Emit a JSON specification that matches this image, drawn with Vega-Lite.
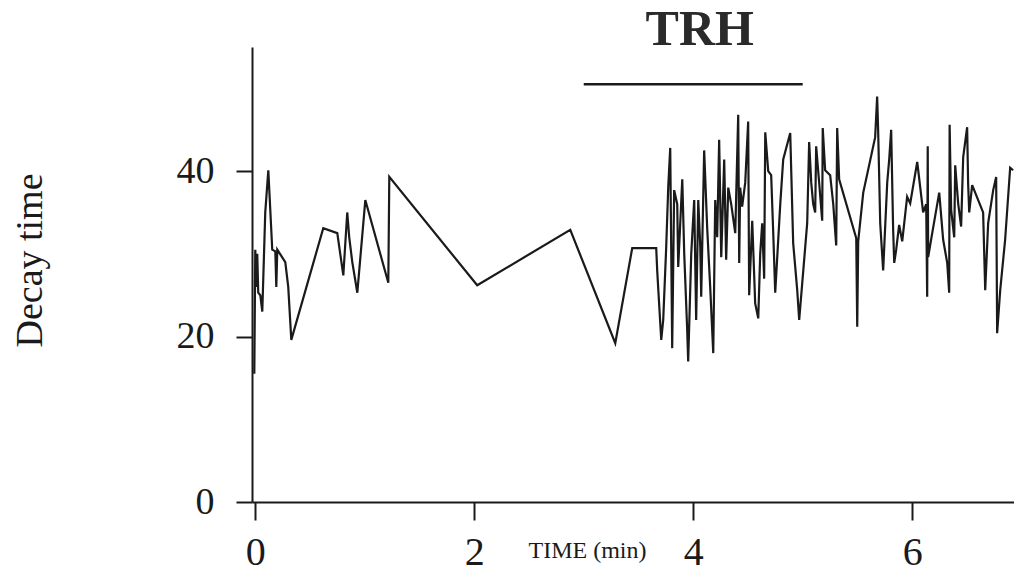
{
  "$schema": "https://vega.github.io/schema/vega-lite/v6.json",
  "width": 762,
  "height": 455,
  "autosize": {"type": "none"},
  "padding": {"left": 252, "top": 47, "right": 0, "bottom": 76},
  "background": "white",
  "config": {
    "view": {"stroke": null},
    "font": "Liberation Serif",
    "axis": {
      "grid": false,
      "domainColor": "#1a1a1a",
      "domainWidth": 2,
      "tickColor": "#1a1a1a",
      "tickWidth": 2,
      "labelColor": "#1a1a1a",
      "titleColor": "#1a1a1a",
      "labelFont": "Liberation Serif",
      "titleFont": "Liberation Serif",
      "titleFontWeight": "normal"
    }
  },
  "datasets": {
    "series": [
      {"i": 1, "t": -0.009, "v": 15.5},
      {"i": 2, "t": 0.0, "v": 30.5},
      {"i": 3, "t": 0.009, "v": 26},
      {"i": 4, "t": 0.018, "v": 30},
      {"i": 5, "t": 0.027, "v": 25.3},
      {"i": 6, "t": 0.046, "v": 25},
      {"i": 7, "t": 0.064, "v": 23},
      {"i": 8, "t": 0.091, "v": 35},
      {"i": 9, "t": 0.119, "v": 40.1},
      {"i": 10, "t": 0.155, "v": 30.5},
      {"i": 11, "t": 0.183, "v": 30.3},
      {"i": 12, "t": 0.192, "v": 26},
      {"i": 13, "t": 0.201, "v": 30.5},
      {"i": 14, "t": 0.274, "v": 29},
      {"i": 15, "t": 0.301, "v": 26},
      {"i": 16, "t": 0.329, "v": 19.6},
      {"i": 17, "t": 0.621, "v": 33.1},
      {"i": 18, "t": 0.749, "v": 32.5},
      {"i": 19, "t": 0.776, "v": 30},
      {"i": 20, "t": 0.804, "v": 27.4},
      {"i": 21, "t": 0.84, "v": 35},
      {"i": 22, "t": 0.858, "v": 32},
      {"i": 23, "t": 0.886, "v": 29},
      {"i": 24, "t": 0.932, "v": 25.3},
      {"i": 25, "t": 1.005, "v": 36.5},
      {"i": 26, "t": 1.215, "v": 26.5},
      {"i": 27, "t": 1.224, "v": 39.3},
      {"i": 28, "t": 2.027, "v": 26.2},
      {"i": 29, "t": 2.877, "v": 32.9},
      {"i": 30, "t": 3.288, "v": 19.2},
      {"i": 31, "t": 3.443, "v": 30.7},
      {"i": 32, "t": 3.662, "v": 30.7},
      {"i": 33, "t": 3.671, "v": 28},
      {"i": 34, "t": 3.68, "v": 25.9},
      {"i": 35, "t": 3.699, "v": 21.6},
      {"i": 36, "t": 3.708, "v": 19.6},
      {"i": 37, "t": 3.726, "v": 22},
      {"i": 38, "t": 3.753, "v": 30.7},
      {"i": 39, "t": 3.772, "v": 38.1},
      {"i": 40, "t": 3.79, "v": 42.8},
      {"i": 41, "t": 3.808, "v": 18.6},
      {"i": 42, "t": 3.826, "v": 37.7},
      {"i": 43, "t": 3.854, "v": 36},
      {"i": 44, "t": 3.863, "v": 28.4},
      {"i": 45, "t": 3.9, "v": 39},
      {"i": 46, "t": 3.918, "v": 30},
      {"i": 47, "t": 3.945, "v": 20.8},
      {"i": 48, "t": 3.954, "v": 17},
      {"i": 49, "t": 3.982, "v": 30},
      {"i": 50, "t": 4.009, "v": 36.5},
      {"i": 51, "t": 4.027, "v": 22},
      {"i": 52, "t": 4.046, "v": 36.5},
      {"i": 53, "t": 4.064, "v": 31},
      {"i": 54, "t": 4.073, "v": 24.8},
      {"i": 55, "t": 4.1, "v": 42.5},
      {"i": 56, "t": 4.128, "v": 33},
      {"i": 57, "t": 4.155, "v": 26},
      {"i": 58, "t": 4.183, "v": 18},
      {"i": 59, "t": 4.201, "v": 36.5},
      {"i": 60, "t": 4.219, "v": 32},
      {"i": 61, "t": 4.237, "v": 43.8},
      {"i": 62, "t": 4.256, "v": 29.6},
      {"i": 63, "t": 4.283, "v": 41.4},
      {"i": 64, "t": 4.301, "v": 29.3},
      {"i": 65, "t": 4.32, "v": 38},
      {"i": 66, "t": 4.347, "v": 36},
      {"i": 67, "t": 4.384, "v": 32.5},
      {"i": 68, "t": 4.411, "v": 46.8},
      {"i": 69, "t": 4.42, "v": 28.9},
      {"i": 70, "t": 4.429, "v": 38},
      {"i": 71, "t": 4.447, "v": 35.7},
      {"i": 72, "t": 4.475, "v": 38.6},
      {"i": 73, "t": 4.502, "v": 46},
      {"i": 74, "t": 4.511, "v": 25},
      {"i": 75, "t": 4.539, "v": 34},
      {"i": 76, "t": 4.566, "v": 24},
      {"i": 77, "t": 4.594, "v": 22.2},
      {"i": 78, "t": 4.612, "v": 30},
      {"i": 79, "t": 4.63, "v": 33.7},
      {"i": 80, "t": 4.648, "v": 27},
      {"i": 81, "t": 4.658, "v": 44.7},
      {"i": 82, "t": 4.685, "v": 40},
      {"i": 83, "t": 4.712, "v": 39.5},
      {"i": 84, "t": 4.731, "v": 32.5},
      {"i": 85, "t": 4.749, "v": 25.3},
      {"i": 86, "t": 4.795, "v": 36},
      {"i": 87, "t": 4.822, "v": 41.4},
      {"i": 88, "t": 4.886, "v": 44.6},
      {"i": 89, "t": 4.913, "v": 31.3},
      {"i": 90, "t": 4.95, "v": 25.6},
      {"i": 91, "t": 4.968, "v": 22},
      {"i": 92, "t": 5.041, "v": 33.7},
      {"i": 93, "t": 5.059, "v": 43.5},
      {"i": 94, "t": 5.078, "v": 38.6},
      {"i": 95, "t": 5.096, "v": 36},
      {"i": 96, "t": 5.114, "v": 35},
      {"i": 97, "t": 5.123, "v": 43},
      {"i": 98, "t": 5.151, "v": 38.5},
      {"i": 99, "t": 5.178, "v": 34},
      {"i": 100, "t": 5.183, "v": 45.2},
      {"i": 101, "t": 5.205, "v": 40.1},
      {"i": 102, "t": 5.251, "v": 39.5},
      {"i": 103, "t": 5.279, "v": 36},
      {"i": 104, "t": 5.306, "v": 31},
      {"i": 105, "t": 5.315, "v": 45.2},
      {"i": 106, "t": 5.333, "v": 39},
      {"i": 107, "t": 5.489, "v": 31.9},
      {"i": 108, "t": 5.498, "v": 21.2},
      {"i": 109, "t": 5.507, "v": 31.5},
      {"i": 110, "t": 5.553, "v": 37.4},
      {"i": 111, "t": 5.662, "v": 44.1},
      {"i": 112, "t": 5.68, "v": 49},
      {"i": 113, "t": 5.689, "v": 45},
      {"i": 114, "t": 5.708, "v": 33.7},
      {"i": 115, "t": 5.735, "v": 28},
      {"i": 116, "t": 5.772, "v": 38.6},
      {"i": 117, "t": 5.79, "v": 41.4},
      {"i": 118, "t": 5.808, "v": 45},
      {"i": 119, "t": 5.826, "v": 33},
      {"i": 120, "t": 5.836, "v": 28.9},
      {"i": 121, "t": 5.854, "v": 30.5},
      {"i": 122, "t": 5.881, "v": 33.5},
      {"i": 123, "t": 5.909, "v": 31.5},
      {"i": 124, "t": 5.954, "v": 36.9},
      {"i": 125, "t": 5.982, "v": 36.1},
      {"i": 126, "t": 6.046, "v": 41.1},
      {"i": 127, "t": 6.073, "v": 38.1},
      {"i": 128, "t": 6.1, "v": 35},
      {"i": 129, "t": 6.128, "v": 36},
      {"i": 130, "t": 6.137, "v": 24.8},
      {"i": 131, "t": 6.142, "v": 43},
      {"i": 132, "t": 6.146, "v": 29.6},
      {"i": 133, "t": 6.183, "v": 32.5},
      {"i": 134, "t": 6.247, "v": 37.4},
      {"i": 135, "t": 6.283, "v": 31.7},
      {"i": 136, "t": 6.32, "v": 28.9},
      {"i": 137, "t": 6.338, "v": 25.3},
      {"i": 138, "t": 6.342, "v": 45.6},
      {"i": 139, "t": 6.356, "v": 35.3},
      {"i": 140, "t": 6.384, "v": 32},
      {"i": 141, "t": 6.393, "v": 40.7},
      {"i": 142, "t": 6.42, "v": 36.1},
      {"i": 143, "t": 6.447, "v": 33.3},
      {"i": 144, "t": 6.466, "v": 41.7},
      {"i": 145, "t": 6.502, "v": 45.3},
      {"i": 146, "t": 6.511, "v": 38.5},
      {"i": 147, "t": 6.521, "v": 35},
      {"i": 148, "t": 6.548, "v": 38.3},
      {"i": 149, "t": 6.648, "v": 35},
      {"i": 150, "t": 6.667, "v": 25.6},
      {"i": 151, "t": 6.694, "v": 33.7},
      {"i": 152, "t": 6.74, "v": 37.7},
      {"i": 153, "t": 6.767, "v": 39.3},
      {"i": 154, "t": 6.776, "v": 20.4},
      {"i": 155, "t": 6.804, "v": 25.6},
      {"i": 156, "t": 6.849, "v": 31.7},
      {"i": 157, "t": 6.895, "v": 40.4},
      {"i": 158, "t": 6.922, "v": 40.1}
    ],
    "bar": [{"t0": 3.0, "t1": 5.0, "v": 50.5}],
    "label": [{"text": "TRH", "t": 4.06, "v": 57.1}]
  },
  "layer": [
    {
      "data": {"name": "series"},
      "mark": {"type": "line", "color": "#1a1a1a", "strokeWidth": 2.2, "clip": true},
      "encoding": {
        "x": {
          "field": "t", "type": "quantitative",
          "scale": {"domain": [-0.03, 6.93], "nice": false, "zero": false},
          "axis": {
            "values": [0, 2, 4, 6], "format": "d", "tickSize": 18, "labelFontSize": 40, "labelPadding": 12,
            "title": "TIME (min)", "titleFontSize": 24, "titleX": 335, "titleY": 48,
            "titleAlign": "center", "titleBaseline": "middle"
          }
        },
        "y": {
          "field": "v", "type": "quantitative",
          "scale": {"domain": [0, 55], "nice": false},
          "axis": {
            "values": [0, 20, 40], "format": "d", "tickSize": 16, "labelFontSize": 38, "labelPadding": 22,
            "title": "Decay time", "titleFontSize": 38, "titleAngle": -90,
            "titleX": -222, "titleY": 213, "titleAlign": "center", "titleBaseline": "middle"
          }
        },
        "order": {"field": "i", "type": "quantitative"}
      }
    },
    {
      "data": {"name": "bar"},
      "mark": {"type": "rule", "color": "#1a1a1a", "strokeWidth": 2.5},
      "encoding": {
        "x": {"field": "t0", "type": "quantitative", "title": "TIME (min)"},
        "x2": {"field": "t1"},
        "y": {"field": "v", "type": "quantitative", "title": "Decay time"}
      }
    },
    {
      "data": {"name": "label"},
      "mark": {"type": "text", "font": "Liberation Serif", "fontWeight": "bold", "fontSize": 50, "color": "#2a2a2a", "baseline": "middle", "align": "center"},
      "encoding": {
        "x": {"field": "t", "type": "quantitative", "title": "TIME (min)"},
        "y": {"field": "v", "type": "quantitative", "title": "Decay time"},
        "text": {"field": "text"}
      }
    }
  ]
}
